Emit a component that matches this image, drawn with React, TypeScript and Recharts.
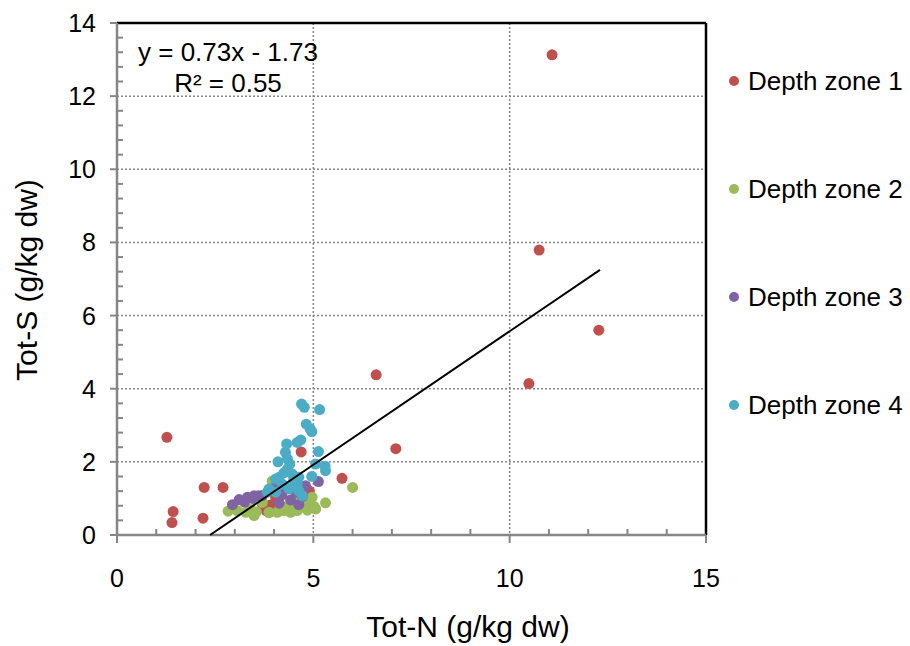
import { ScatterChart, Scatter, XAxis, YAxis, CartesianGrid, ReferenceLine } from 'recharts';

const font = '"Liberation Sans", Arial, sans-serif';

const zoneNames = ['Depth zone 1', 'Depth zone 2', 'Depth zone 3', 'Depth zone 4'];
const zoneColors = ['#C0504D', '#9BBB59', '#8064A2', '#4BACC6'];

// [Tot-N, Tot-S]
const zone1: [number, number][] = [
  [11.08, 13.13], [10.75, 7.79], [12.27, 5.6], [10.49, 4.14], [6.6, 4.38], [7.1, 2.36],
  [1.27, 2.67], [1.43, 0.64], [1.4, 0.34], [2.22, 1.3], [2.7, 1.3], [2.19, 0.46],
  [4.69, 2.27], [5.73, 1.55], [3.45, 0.62], [3.8, 0.67], [3.91, 0.82], [4.04, 1.03],
  [3.7, 0.85], [3.87, 0.62], [4.2, 0.78], [4.9, 1.2],
];
const zone2: [number, number][] = [
  [2.83, 0.65], [3.06, 0.67], [3.28, 0.62], [3.49, 0.53], [3.55, 0.63], [3.7, 0.89],
  [3.87, 0.62], [4.08, 0.62], [4.25, 0.67], [4.42, 0.62], [4.59, 0.67], [4.76, 0.76],
  [4.89, 0.94], [4.97, 1.03], [5.06, 0.71], [5.31, 0.88], [6.0, 1.3], [4.63, 1.03],
  [3.95, 1.47], [4.51, 0.89], [5.02, 0.78], [4.3, 0.75], [4.7, 0.9], [3.4, 0.7],
  [4.15, 0.72], [4.85, 0.68],
];
const zone3: [number, number][] = [
  [2.94, 0.83], [3.11, 0.97], [3.25, 0.9], [3.32, 1.03], [3.45, 1.0], [3.49, 1.07],
  [3.6, 1.07], [3.7, 1.08], [3.95, 1.26], [4.04, 1.3], [4.13, 0.87], [4.25, 1.35],
  [4.42, 0.96], [4.55, 1.17], [4.63, 0.83], [4.72, 1.05], [4.8, 1.35], [5.13, 1.46],
  [4.76, 1.3], [4.2, 1.1],
];
const zone4: [number, number][] = [
  [4.7, 3.58], [4.77, 3.49], [5.16, 3.43], [4.82, 3.03], [4.92, 2.9], [4.96, 2.83],
  [4.32, 2.49], [4.59, 2.53], [4.68, 2.6], [5.13, 2.28], [4.29, 2.26], [4.34, 2.08],
  [4.1, 2.0], [4.4, 1.94], [5.06, 1.94], [5.3, 1.88], [5.31, 1.76], [4.96, 1.6],
  [4.34, 1.8], [4.46, 1.67], [4.13, 1.58], [4.04, 1.53], [4.63, 1.58], [4.59, 1.39],
  [4.21, 1.39], [3.87, 1.26], [4.38, 1.26], [4.63, 1.21], [4.04, 1.17], [3.83, 1.17],
  [4.72, 1.07], [4.5, 1.5], [4.25, 1.7],
];
const zones = [zone1, zone2, zone3, zone4];

// linear trendline ends
const trendN = [2.37, 12.3];
const trendS = [0, 7.25];

const xTicks = [0, 5, 10, 15];
const yTicks = [0, 2, 4, 6, 8, 10, 12, 14];
const xMinorTicks = [1, 2, 3, 4, 6, 7, 8, 9, 11, 12, 13, 14];
const yMinorTicks = [
  0.4, 0.8, 1.2, 1.6, 2.4, 2.8, 3.2, 3.6, 4.4, 4.8, 5.2, 5.6, 6.4, 6.8, 7.2, 7.6,
  8.4, 8.8, 9.2, 9.6, 10.4, 10.8, 11.2, 11.6, 12.4, 12.8, 13.2, 13.6,
];

const axisGray = '#868686';

// major ticks point outward with a label, minor ticks point inward
function XTick({ x, y, payload }: any) {
  const major = xTicks.includes(payload.value);
  return (
    <g>
      <line x1={x} x2={x} y1={y} y2={major ? y + 8 : y - 6} stroke={axisGray} strokeWidth={2} />
      {major && (
        <text x={x} y={y + 52} textAnchor="middle" fill="#000" fontSize={25} fontFamily={font}>
          {payload.value}
        </text>
      )}
    </g>
  );
}

function YTick({ x, y, payload }: any) {
  const major = yTicks.includes(payload.value);
  return (
    <g>
      <line x1={major ? x - 7 : x} x2={major ? x : x + 6} y1={y} y2={y} stroke={axisGray} strokeWidth={2} />
      {major && (
        <text x={x - 21} y={y + 9} textAnchor="end" fill="#000" fontSize={25} fontFamily={font}>
          {payload.value}
        </text>
      )}
    </g>
  );
}

export default function App() {
  const trend = trendN.map((x, i) => ({ x, y: trendS[i] }));
  const allX = [...xTicks, ...xMinorTicks].sort((a, b) => a - b);
  const allY = [...yTicks, ...yMinorTicks].sort((a, b) => a - b);

  return (
    <div style={{ position: 'absolute', left: 0, top: 0, width: 910, height: 646, background: '#fff', fontFamily: font }}>
      <ScatterChart width={910} height={646} margin={{ top: 23, right: 204, bottom: 51, left: 17 }}>
        <CartesianGrid
          stroke={axisGray}
          strokeDasharray="2 2"
          strokeWidth={1.5}
          horizontalValues={yTicks}
          verticalValues={xTicks}
        />
        <XAxis
          type="number"
          dataKey="x"
          domain={[0, 15]}
          ticks={allX}
          interval={0}
          height={60}
          tickSize={0}
          tickMargin={0}
          axisLine={{ stroke: axisGray, strokeWidth: 2.5 }}
          tickLine={false}
          tick={<XTick />}
        />
        <YAxis
          type="number"
          dataKey="y"
          domain={[0, 14]}
          ticks={allY}
          interval={0}
          width={100}
          tickSize={0}
          tickMargin={0}
          axisLine={{ stroke: axisGray, strokeWidth: 2.5 }}
          tickLine={false}
          tick={<YTick />}
        />
        <ReferenceLine y={14} stroke="#000" strokeWidth={2.5} />
        <ReferenceLine x={15} stroke="#000" strokeWidth={2.5} />
        {zones.map((zone, i) => (
          <Scatter
            key={zoneNames[i]}
            name={zoneNames[i]}
            data={zone.map(([x, y]) => ({ x, y }))}
            fill={zoneColors[i]}
            isAnimationActive={false}
            shape={(p: any) => <circle cx={p.cx} cy={p.cy} r={5.5} fill={zoneColors[i]} />}
          />
        ))}
        <Scatter
          name="trend"
          data={trend}
          line={{ stroke: '#000', strokeWidth: 2 }}
          legendType="none"
          isAnimationActive={false}
          shape={() => <g />}
        />
      </ScatterChart>

      <div style={{ position: 'absolute', left: 128, top: 37, width: 200, textAlign: 'center', fontSize: 26, lineHeight: '30px' }}>
        y = 0.73x - 1.73
      </div>
      <div style={{ position: 'absolute', left: 128, top: 68, width: 200, textAlign: 'center', fontSize: 26, lineHeight: '30px' }}>
        R² = 0.55
      </div>

      {zoneNames.map((name, i) => (
        <div key={name} style={{ position: 'absolute', left: 729, top: 66 + i * 108, height: 30, display: 'flex', alignItems: 'center', fontSize: 26, lineHeight: '30px', whiteSpace: 'nowrap' }}>
          <span style={{ width: 10, height: 10, borderRadius: 5, background: zoneColors[i], marginRight: 9 }} />
          {name}
        </div>
      ))}

      <div style={{ position: 'absolute', left: 268, top: 610, width: 400, textAlign: 'center', fontSize: 30, lineHeight: '34px' }}>
        Tot-N (g/kg dw)
      </div>
      <div style={{ position: 'absolute', left: 27 - 200, top: 280 - 17, width: 400, textAlign: 'center', fontSize: 30, lineHeight: '34px', transform: 'rotate(-90deg)' }}>
        Tot-S (g/kg dw)
      </div>
    </div>
  );
}
